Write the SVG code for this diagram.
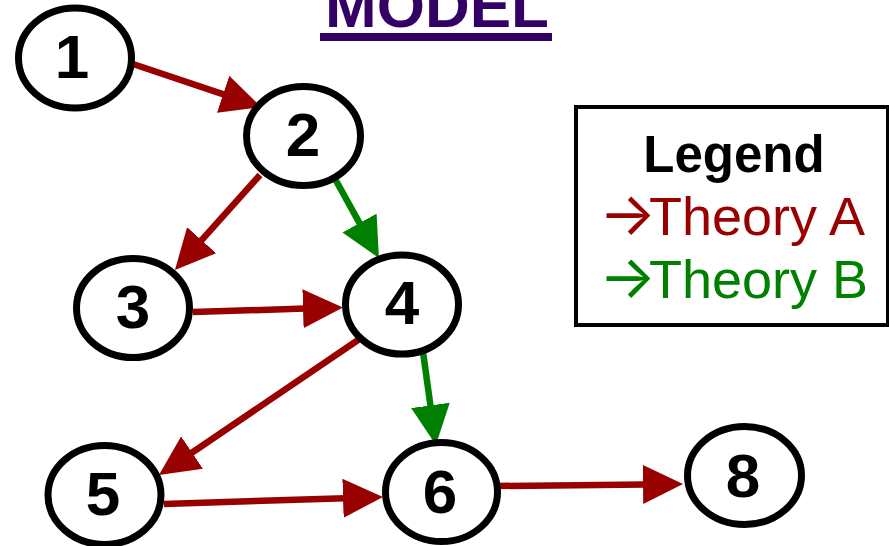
<svg xmlns="http://www.w3.org/2000/svg" width="889" height="546" viewBox="0 0 889 546">
<style>
.node ellipse{fill:#fff;stroke:#000;stroke-width:7}
.node text{font-family:"Liberation Sans",Arial,sans-serif;font-weight:bold;font-size:62px;fill:#000;text-anchor:middle}
.a{stroke:#990000;stroke-width:6.5;fill:none;marker-end:url(#ha)}
.b{stroke:#008000;stroke-width:6.5;fill:none;marker-end:url(#hb)}
.lg{font-family:"Liberation Sans",Arial,sans-serif}
.ar{font-family:Inter,"DejaVu Sans",sans-serif;font-size:60px}
</style>
<defs>
<marker id="ha" markerUnits="userSpaceOnUse" viewBox="0 -19.5 40 39" refX="2" refY="0" markerWidth="40" markerHeight="39" orient="auto"><path d="M0,-19.5 L40,0 L0,19.5 z" fill="#990000"/></marker>
<marker id="hb" markerUnits="userSpaceOnUse" viewBox="0 -19.5 40 39" refX="2" refY="0" markerWidth="40" markerHeight="39" orient="auto"><path d="M0,-19.5 L40,0 L0,19.5 z" fill="#008000"/></marker>
</defs>
<rect width="889" height="546" fill="#fff"/>
<g id="title">
<text x="437" y="27" font-family="Liberation Sans,Arial,sans-serif" font-weight="bold" font-size="62" fill="#330066" text-anchor="middle">MODEL</text>
<rect x="320" y="33" width="232" height="8" fill="#330066"/>
</g>
<g id="connectors">
<line class="a" x1="130" y1="63" x2="225" y2="94.9"/>
<line class="a" x1="260" y1="175" x2="200.3" y2="241.7"/>
<line class="b" x1="334" y1="177" x2="360.5" y2="224.8"/>
<line class="a" x1="193" y1="312" x2="305" y2="308.6"/>
<line class="a" x1="361" y1="338" x2="190.4" y2="453.7"/>
<line class="b" x1="423" y1="352" x2="430.7" y2="407.4"/>
<line class="a" x1="164" y1="504" x2="345" y2="498.2"/>
<line class="a" x1="497" y1="486" x2="645" y2="484.4"/>
</g>
<g id="n1" class="node"><ellipse cx="75" cy="58" rx="56.5" ry="50"/><text x="72" y="78">1</text></g>
<g id="n2" class="node"><ellipse cx="303.5" cy="136" rx="57" ry="49.5"/><text x="303" y="156">2</text></g>
<g id="n3" class="node"><ellipse cx="133" cy="308" rx="56.5" ry="49.5"/><text x="133" y="328">3</text></g>
<g id="n4" class="node"><ellipse cx="402" cy="304.5" rx="56.5" ry="49.5"/><text x="402" y="324">4</text></g>
<g id="n5" class="node"><ellipse cx="104.5" cy="495" rx="56.5" ry="49.5"/><text x="103" y="515">5</text></g>
<g id="n6" class="node"><ellipse cx="441.5" cy="492" rx="56" ry="49.5"/><text x="440" y="513">6</text></g>
<g id="n8" class="node"><ellipse cx="744.5" cy="475.5" rx="57" ry="49"/><text x="743" y="497">8</text></g>
<g id="legend">
<rect x="576" y="107" width="312" height="218" fill="#fff" stroke="#000" stroke-width="4"/>
<text class="lg" x="734" y="172" font-size="51" font-weight="bold" fill="#000" text-anchor="middle">Legend</text>
<text class="lg" y="235" font-size="54" fill="#990000"><tspan class="ar" x="599">→</tspan><tspan x="649">Theory A</tspan></text>
<text class="lg" y="298" font-size="54" fill="#008000"><tspan class="ar" x="599">→</tspan><tspan x="649">Theory B</tspan></text>
</g>
</svg>
